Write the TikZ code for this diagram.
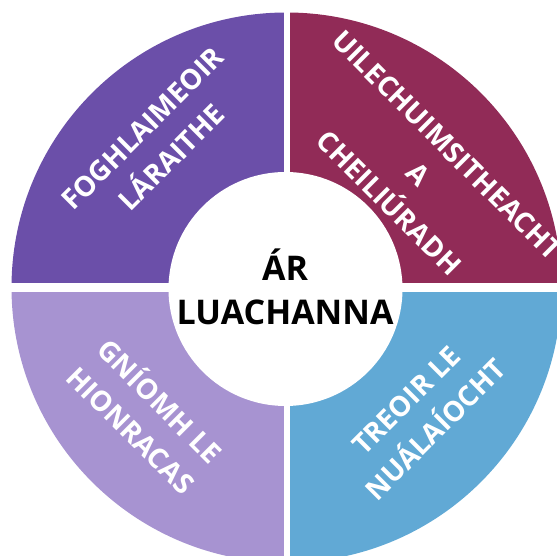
\documentclass[tikz,border=0pt]{standalone}
\usepackage{fontspec}
\setmainfont{Open Sans}
\definecolor{qtl}{HTML}{6B4FA9}
\definecolor{qtr}{HTML}{912B57}
\definecolor{qbl}{HTML}{A793D1}
\definecolor{qbr}{HTML}{61A9D5}
\tikzset{
  qlabel/.style={text=white, align=center, inner sep=0pt,
    font=\bfseries\fontsize{28}{41}\selectfont},
  corelabel/.style={text=black, align=center, inner sep=0pt,
    font=\bfseries\fontsize{34}{44}\selectfont},
}
\begin{document}
\begin{tikzpicture}[x=1pt,y=1pt]
\useasboundingbox (0,0) rectangle (557,556);
\coordinate (C) at (286.5,268.5);
\fill[qtl] (C) -- ++(180:275) arc (180:90:275) -- cycle;
\fill[qtr] (C) -- ++(90:275) arc (90:0:275) -- cycle;
\fill[qbl] (C) -- ++(180:275) arc (180:270:275) -- cycle;
\fill[qbr] (C) -- ++(270:275) arc (270:360:275) -- cycle;
\fill[white] (284,0) rectangle (289.5,556);
\fill[white] (0,264) rectangle (557,273);
\node[circle, fill=white, minimum size=234pt, inner sep=0pt] (core) at (285.5,267) {};
\node[corelabel] (title) at (285,269) {ÁR\\LUACHANNA};
\node[qlabel, rotate=45] (tl) at (157,413) {FOGHLAIMEOIR\\LÁRAITHE};
\node[qlabel, rotate=-45] (tr) at (418,382) {UILECHUIMSITHEACHT\\A\\CHEILIÚRADH};
\node[qlabel, rotate=-45] (bl) at (147,142) {GNÍOMH LE\\HIONRACAS};
\node[qlabel, rotate=45] (br) at (421,141) {TREOIR LE\\NUÁLAÍOCHT};
\end{tikzpicture}
\end{document}
